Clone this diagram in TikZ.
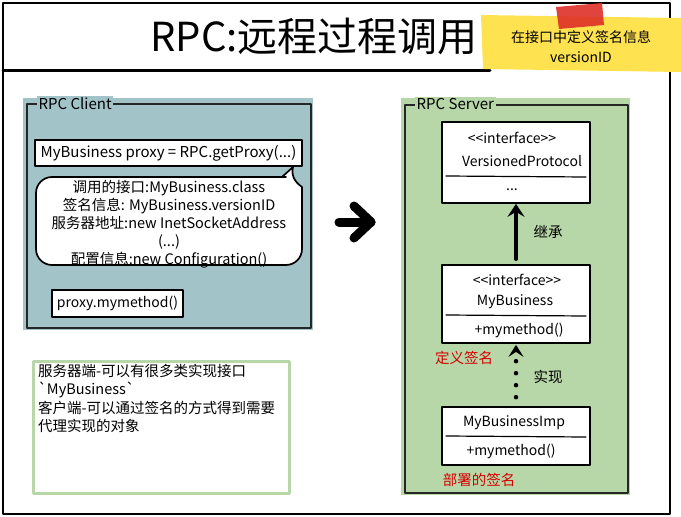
\documentclass[tikz,border=0pt]{standalone}
\usepackage{fontspec}
\setmainfont{Noto Sans CJK SC}[Ligatures=TeXOff]
\usetikzlibrary{arrows.meta}
\newcommand\fsz[2]{\fontsize{#1}{#2}\selectfont}

\begin{document}
\begin{tikzpicture}[x=1pt, y=-1pt, line cap=round, line join=round,
  panel/.style={draw=black!85, line width=1.7pt},
  codebox/.style={draw, line width=1.7pt, fill=white, font=\fsz{14}{16}},
  umlbox/.style={draw, line width=1.7pt, fill=white, minimum width=148},
  umltext/.style={font=\fsz{14}{16}},
  redtext/.style={text=redlabel, font=\fsz{14.5}{16}},
  inherit/.style={line width=3.5pt, -{Stealth[length=13pt, width=17pt, inset=5pt]}},
  realize/.style={line width=4.5pt, dash pattern=on 0pt off 12pt,
    -{Stealth[length=12pt, width=15pt, inset=5pt]}}]
  \definecolor{clientbg}{RGB}{162,196,201}
  \definecolor{serverbg}{RGB}{183,215,168}
  \definecolor{notegreen}{RGB}{183,215,168}
  \definecolor{memoyellow}{RGB}{255,226,80}
  \definecolor{tapered}{RGB}{222,48,40}
  \definecolor{redlabel}{RGB}{215,0,0}
  \useasboundingbox (0,0) rectangle (681,517);
  % frame and title
  \draw[line width=2.4pt] (3,3) rectangle (670,514);
  \draw[line width=3pt] (3,70) -- (490,70);
  \node[font=\fsz{40}{42}] (title) at (314,36) {RPC:远程过程调用};
  \fill[memoyellow] (481,15) -- (681,18) -- (681,72) -- (483,69) -- cycle;
  \fill[tapered, opacity=0.9] (556,7) -- (602,3) -- (604,25) -- (559,29) -- cycle;
  \node[align=center, font=\fsz{14}{20}] (memo) at (581,47) {在接口中定义签名信息\\versionID};
  % client side
  \fill[clientbg] (23,98) rectangle (313,330);
  \draw[panel] (27,104) rectangle (311,328);
  \node[fill=clientbg, inner sep=1.5pt, anchor=west, font=\fsz{15}{17}] (clienttitle) at (37,104) {RPC Client};
  \node[codebox, font=\fsz{15}{17}, minimum width=267, minimum height=26] (proxy) at (168.5,153) {MyBusiness proxy = RPC.getProxy(...)};
  \draw[line width=1.7pt, fill=white] (282,177) -- (293,167) .. controls (291,176) and (295,182) .. (302,187)
    [rounded corners=16pt] -- (302,265) -- (36,265) -- (36,177) -- (270,177) [sharp corners] -- cycle;
  \node[align=center, font=\fsz{14.5}{18}] (sig) at (169,224)
    {调用的接口:MyBusiness.class\\签名信息: MyBusiness.versionID\\服务器地址:new InetSocketAddress\\(...)\\配置信息:new Configuration()};
  \node[codebox, minimum width=131, minimum height=27] (call) at (117.5,303.5) {proxy.mymethod()};
  % big arrow
  \coordinate (goL) at (339,222);
  \coordinate (goR) at (371,222);
  \draw[line width=9pt] (goL) -- (goR);
  \draw[line width=9pt] (354,206) -- (goR) -- (354,238);
  % server side
  \fill[serverbg] (401,98) rectangle (630,495);
  \draw[panel] (405,105) rectangle (628,493);
  \node[fill=serverbg, inner sep=1.5pt, anchor=west, font=\fsz{15}{17}] (servertitle) at (415,104) {RPC Server};
  \node[umlbox, minimum height=81] (vp) at (516,162.5) {};
  \draw[line width=1.2pt] (446,176) -- (586,177);
  \node[umltext] (vpstereo) at (512,138) {<<interface>>};
  \node[umltext] (vpname) at (522,161) {VersionedProtocol};
  \node[umltext] (vpdots) at (512,190) {...};
  \node[umlbox, minimum height=78] (mb) at (516,304) {};
  \draw[line width=1.2pt] (446,315) -- (586,316);
  \node[umltext] (mbstereo) at (517,280) {<<interface>>};
  \node[umltext] (mbname) at (515,302) {MyBusiness};
  \node[umltext] (mbop) at (519,330) {+mymethod()};
  \node[umlbox, minimum height=58] (imp) at (516,436) {};
  \draw[line width=1.2pt] (446,436) -- (586,437);
  \node[umltext] (impname) at (514,423) {MyBusinessImp};
  \node[umltext] (impop) at (511,451) {+mymethod()};
  \draw[inherit, shorten <=5pt] (mb.north) -- (vp.south);
  \draw[realize, shorten <=9pt, shorten >=1pt] (imp.north) -- (mb.south);
  \node[font=\fsz{14.5}{16}] (inheritlabel) at (548,232) {继承};
  \node[font=\fsz{14.5}{16}] (realizelabel) at (548,377) {实现};
  \node[redtext] (deflabel) at (464,358) {定义签名};
  \node[redtext] (deploylabel) at (479,480) {部署的签名};
  % note
  \node[draw=notegreen, line width=2.5pt, fill=white, minimum width=256, minimum height=132, anchor=north west] (note) at (32,360) {};
  \node[anchor=north west, align=left, inner sep=0pt, font=\fsz{14.5}{18.5}] (notetext) at (38,364)
    {服务器端-可以有很多类实现接口\\`MyBusiness`\\客户端-可以通过签名的方式得到需要\\代理实现的对象};
\end{tikzpicture}
\end{document}
